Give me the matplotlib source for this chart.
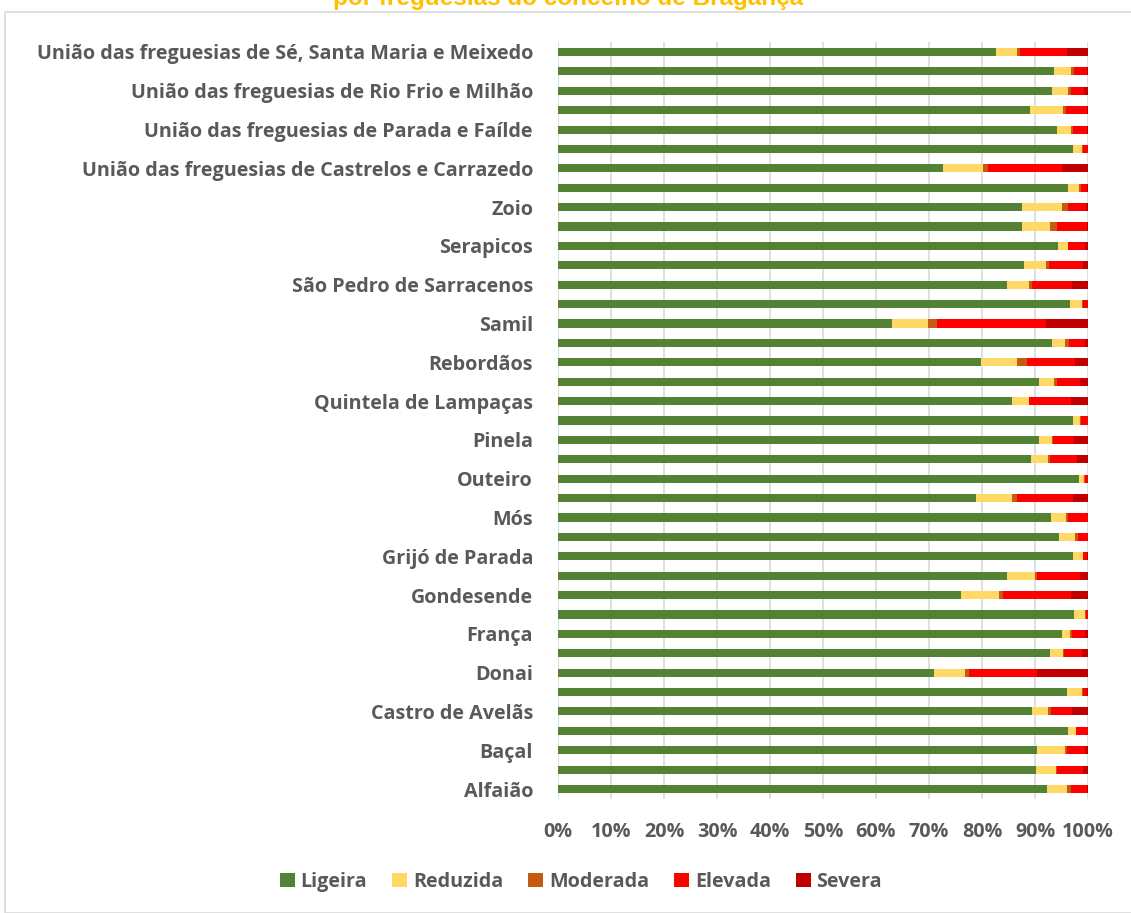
import matplotlib
matplotlib.use("Agg")
import matplotlib.pyplot as plt
import numpy as np
from matplotlib.patches import Rectangle

freguesias = [
    "Alfaião", "Babe", "Baçal", "Carragosa", "Castro de Avelãs", "Coelhoso",
    "Donai", "Espinhosela", "França", "Gimonde", "Gondesende", "Gostei",
    "Grijó de Parada", "Macedo do Mato", "Mós", "Nogueira", "Outeiro",
    "Parâmio", "Pinela", "Quintanilha", "Quintela de Lampaças", "Rabal",
    "Rebordãos", "Salsas", "Samil", "Santa Comba de Rossas",
    "São Pedro de Sarracenos", "Sendas", "Serapicos", "Sortes", "Zoio",
    "União das freguesias de Aveleda e Rio de Onor",
    "União das freguesias de Castrelos e Carrazedo",
    "União das freguesias de Izeda, Calvelhe e Paradinha Nova",
    "União das freguesias de Parada e Faílde",
    "União das freguesias de Rebordainhos e Pombares",
    "União das freguesias de Rio Frio e Milhão",
    "União das freguesias de São Julião de Palácios e Deilão",
    "União das freguesias de Sé, Santa Maria e Meixedo",
]

ligeira = [92.3, 90.1, 90.4, 96.2, 89.5, 96.0, 70.9, 92.8, 95.1, 97.3, 76.1, 84.7,
           97.1, 94.5, 93.0, 78.8, 98.3, 89.3, 90.9, 97.2, 85.6, 90.8, 79.8, 93.2,
           63.1, 96.6, 84.7, 87.9, 94.3, 87.5, 87.6, 96.2, 72.6, 97.1, 94.1, 89.0,
           93.3, 93.6, 82.6]
reduzida = [3.7, 3.8, 5.2, 1.5, 2.9, 2.9, 5.9, 2.4, 1.5, 2.2, 7.2, 5.3,
            1.9, 3.1, 2.9, 6.8, 0.9, 3.1, 2.4, 1.3, 3.2, 2.7, 6.8, 2.4,
            6.7, 2.3, 4.1, 4.1, 1.9, 5.4, 7.5, 2.1, 7.5, 1.8, 2.7, 6.2,
            2.9, 3.2, 4.0]
moderada = [0.7, 0.3, 0.5, 0.1, 0.7, 0.2, 0.7, 0.2, 0.3, 0.1, 0.7, 0.3,
            0.1, 0.6, 0.3, 1.0, 0.3, 0.5, 0.1, 0.2, 0.1, 0.6, 1.8, 0.8,
            1.7, 0.1, 0.7, 0.7, 0.1, 1.2, 1.1, 0.3, 1.1, 0.2, 0.4, 0.7,
            0.5, 0.5, 0.6]
elevada = [3.2, 4.9, 3.4, 2.2, 3.9, 0.8, 12.9, 3.4, 2.6, 0.4, 12.7, 8.2,
           0.8, 1.8, 3.8, 10.6, 0.5, 5.1, 4.1, 1.3, 7.9, 4.3, 9.2, 3.1,
           20.6, 1.0, 7.5, 6.3, 3.2, 5.7, 3.5, 1.2, 13.8, 0.9, 2.6, 3.9,
           2.6, 2.5, 8.9]
severa = [0.1, 0.9, 0.5, 0.0, 3.0, 0.1, 9.6, 1.2, 0.5, 0.0, 3.3, 1.5,
          0.1, 0.0, 0.0, 2.8, 0.0, 2.0, 2.6, 0.0, 3.2, 1.6, 2.4, 0.5,
          7.9, 0.0, 3.0, 1.0, 0.5, 0.2, 0.3, 0.2, 5.0, 0.0, 0.2, 0.2,
          0.7, 0.2, 3.9]

series_names = ["Ligeira", "Reduzida", "Moderada", "Elevada", "Severa"]
series_vals = [ligeira, reduzida, moderada, elevada, severa]
colors = ["#548235", "#FFD966", "#C55A11", "#FF0000", "#C00000"]
xticks = [0, 10, 20, 30, 40, 50, 60, 70, 80, 90, 100]
title_text = "por freguesias do concelho de Bragança"

FONT = "Open Sans"
GRAY = "#595959"
FS = 14.2

fig = plt.figure(figsize=(11.31, 9.13), dpi=100)
ax = fig.add_axes([558/1131, 1 - 798.7/913, (1088-558)/1131, (798.7-42.3)/913])

data = np.array(series_vals, dtype=float)
totals = data.sum(axis=0)
pct = data / totals * 100
y = np.arange(len(freguesias))
left = np.zeros(len(freguesias))
for name, vals, c in zip(series_names, pct, colors):
    ax.barh(y, vals, left=left, height=0.42, color=c, label=name, zorder=3)
    left += vals

ax.set_xlim(0, 100)
ax.set_ylim(-0.5, len(freguesias) - 0.5)
ax.set_xticks(xticks)
ax.set_xticklabels([f"{v}%" for v in xticks], fontfamily=FONT, fontweight="bold",
                   fontsize=FS, color=GRAY)
ax.set_yticks(y)
ax.set_yticklabels([n if i % 2 == 0 else "" for i, n in enumerate(freguesias)],
                   fontfamily=FONT, fontweight="bold", fontsize=FS, color=GRAY)
ax.tick_params(axis="x", length=0, pad=17)
ax.tick_params(axis="y", length=0, pad=18)
ax.grid(axis="x", color="#D9D9D9", linewidth=1.2, zorder=0)
for s in ax.spines.values():
    s.set_visible(False)

leg = fig.legend(loc="center", bbox_to_anchor=(581/1131, 1 - 882/913), ncol=5,
                 frameon=False, handlelength=0.75, handleheight=0.75,
                 handletextpad=0.3, columnspacing=1.27,
                 prop={"family": FONT, "weight": "bold", "size": FS})
for t in leg.get_texts():
    t.set_color(GRAY)

fig.text(568/1131, 1 - 5/913, title_text, ha="center", va="baseline",
         fontfamily="Liberation Sans", fontweight="bold", fontsize=17.5,
         color="#FFC000")

fig.patches.append(Rectangle((5/1131, 0), 1.2, 1 - 12/913, transform=fig.transFigure,
                             fill=False, edgecolor="#D9D9D9", linewidth=1.2))

fig.savefig("out.png", dpi=100)
